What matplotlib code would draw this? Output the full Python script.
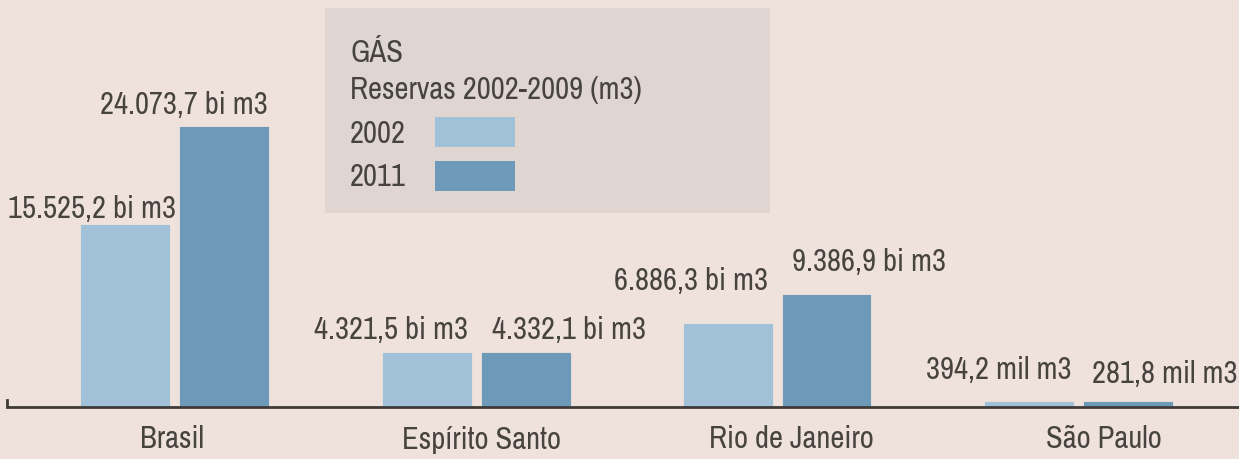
import matplotlib
matplotlib.use("Agg")
import matplotlib.pyplot as plt
from matplotlib.patches import Rectangle
from matplotlib.transforms import blended_transform_factory, ScaledTranslation
import numpy as np

# ---------------- data ----------------
categories = ["Brasil", "Espírito Santo", "Rio de Janeiro", "São Paulo"]
series_names = ["2002", "2011"]
values_2002 = [15525.2, 4321.5, 6886.3, 0.3942]   # bi m3 (SP: 394,2 mil m3)
values_2011 = [24073.7, 4332.1, 9386.9, 0.2818]   # bi m3 (SP: 281,8 mil m3)
labels_2002 = ["15.525,2 bi m3", "4.321,5 bi m3", "6.886,3 bi m3", "394,2 mil m3"]
labels_2011 = ["24.073,7 bi m3", "4.332,1 bi m3", "9.386,9 bi m3", "281,8 mil m3"]
title_1 = "GÁS"
title_2 = "Reservas 2002-2009 (m3)"

# ---------------- style ----------------
W, H, DPI = 1239, 459, 100
BG = "#efe2dc"
BOX = "#e0d6d1"
C_LIGHT = "#a0c1d7"
C_DARK = "#6e9aba"
TXT = "#47433f"
LINE = "#3e3a37"
FONT = ["Archivo Narrow", "Roboto Condensed", "DejaVu Sans"]
FS = 22
plt.rcParams["font.family"] = FONT

fig = plt.figure(figsize=(W / DPI, H / DPI), dpi=DPI, facecolor=BG)
ax = fig.add_axes([0, 0, 1, 1])
ax.set_facecolor(BG)
ax.axis("off")

# mapping: group spacing 301 px, first group centre 175.5 px, zero level 404.5 px from top
px_per_group = 301.0
units_per_px = 87.5
zero_px = 404.5
ax.set_xlim(-175.5 / px_per_group, (W - 175.5) / px_per_group)
ax.set_ylim(-(H - zero_px) * units_per_px, zero_px * units_per_px)

x = np.arange(len(categories))
bw = 85 / px_per_group
off = 49.5 / px_per_group
EDGE_LW = 3.0
b1 = ax.bar(x - off, values_2002, bw, color=C_LIGHT, edgecolor=C_LIGHT,
            linewidth=EDGE_LW, joinstyle="miter", zorder=2)
b2 = ax.bar(x + off, values_2011, bw, color=C_DARK, edgecolor=C_DARK,
            linewidth=EDGE_LW, joinstyle="miter", zorder=2)

# baseline (just under the bar feet) with a small left up-tick
tr = blended_transform_factory(ax.transAxes, ax.transData) + \
    ScaledTranslation(0, -2.6 / DPI, fig.dpi_scale_trans)
x0 = 7 / W
ax.plot([x0, x0, 1.0], [7 * units_per_px, 0, 0], transform=tr, color=LINE,
        lw=2.0, solid_joinstyle="miter", zorder=3, clip_on=False)

# value labels (pixel offsets converted to points)
p2pt = 72.0 / DPI
lay_2002 = [("right", 8, 9), ("right", -2, 16), ("right", -3, 36), ("right", 0, 25)]
lay_2011 = [("right", 0, 15), ("left", 9, 16), ("left", 8, 26), ("left", 7, 21)]
for bars, labs, lay in ((b1, labels_2002, lay_2002), (b2, labels_2011, lay_2011)):
    for rect, lab, (ha, dx, dy) in zip(bars, labs, lay):
        xa = rect.get_x() + (rect.get_width() if ha == "right" else 0)
        ax.annotate(lab, (xa, rect.get_height()), xytext=(dx * p2pt, dy * p2pt),
                    textcoords="offset points", ha=ha, va="baseline",
                    fontsize=FS, color=TXT, zorder=4)

# category labels
cat_dx = [-3, 5, 14, 25]
for xi, cat, dx in zip(x, categories, cat_dx):
    ax.annotate(cat, (xi, 0), xytext=(dx * p2pt, -44 * p2pt), textcoords="offset points",
                ha="center", va="baseline", fontsize=FS, color=TXT)

# legend box (figure pixel coords -> figure fraction)
def fx(px):
    return px / W

def fy(py):
    return 1 - py / H

fig.patches.append(Rectangle((fx(325), fy(213)), fx(770) - fx(325), fy(8) - fy(213),
                             transform=fig.transFigure, facecolor=BOX, edgecolor="none", zorder=0))
fig.text(fx(350), fy(62), title_1, fontsize=FS, color=TXT, va="baseline", ha="left")
fig.text(fx(350), fy(99), title_2, fontsize=FS, color=TXT, va="baseline", ha="left")
for i, (name, col) in enumerate(zip(series_names, [C_LIGHT, C_DARK])):
    ty = 143 + i * 43
    fig.text(fx(350), fy(ty), name, fontsize=FS, color=TXT, va="baseline", ha="left")
    sy = 117 + i * 44
    fig.patches.append(Rectangle((fx(435), fy(sy + 30)), fx(515) - fx(435), fy(sy) - fy(sy + 30),
                                 transform=fig.transFigure, facecolor=col, edgecolor="none"))

fig.savefig("out.png", dpi=DPI, facecolor=BG)
